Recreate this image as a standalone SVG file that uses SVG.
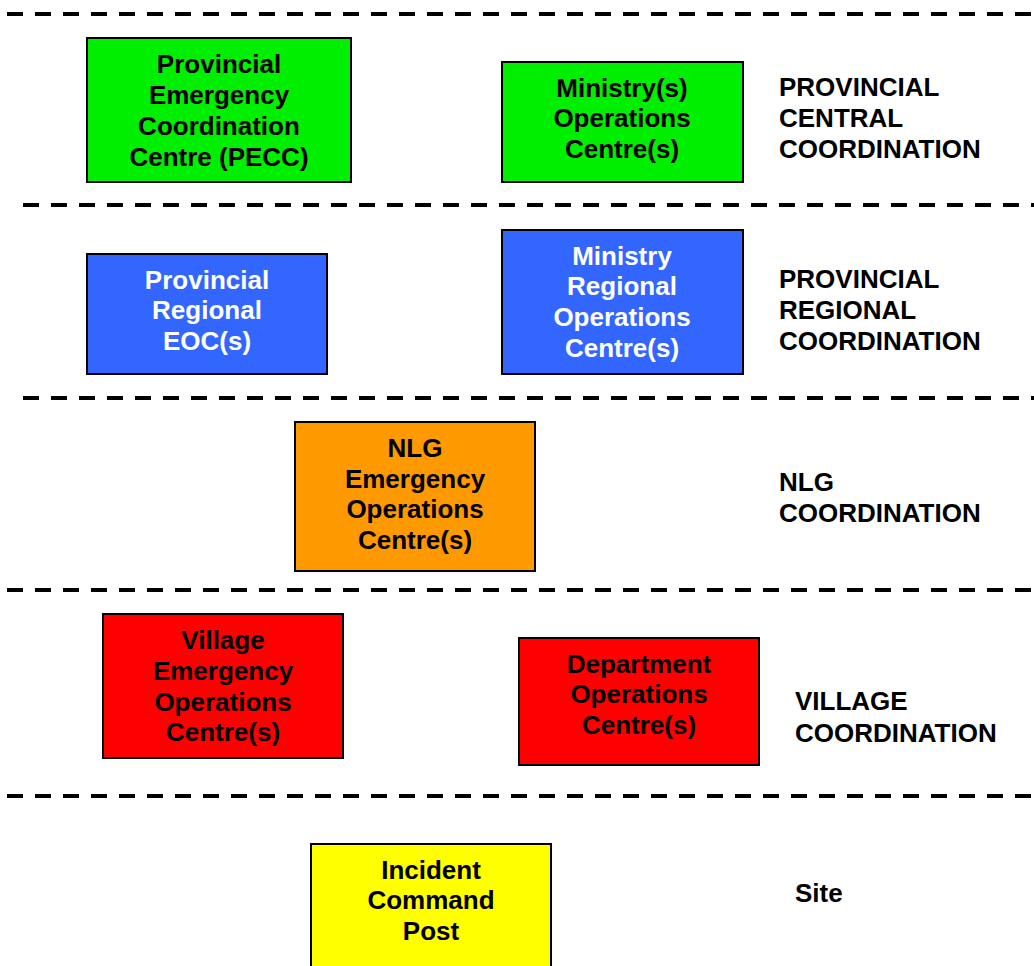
<svg xmlns="http://www.w3.org/2000/svg" width="1034" height="966" viewBox="0 0 1034 966">
  <style>
    .tier { stroke: #000; stroke-width: 4; stroke-dasharray: 16 12; fill: none; }
    .box { stroke: #000; stroke-width: 2; }
    .lbl { font-family: "Liberation Sans", Arial, Helvetica, sans-serif; font-weight: bold; font-size: 26px; text-anchor: middle; fill: #000; }
    .lvl { font-family: "Liberation Sans", Arial, Helvetica, sans-serif; font-weight: bold; font-size: 26px; fill: #000; }
    .white { fill: #fff; }
  </style>

  <rect width="1034" height="966" fill="#fff"/>

  <!-- tier separators -->
  <g id="connectors">
    <line class="tier" x1="7" y1="14" x2="1034" y2="14"/>
    <line class="tier" x1="23" y1="205" x2="1034" y2="205"/>
    <line class="tier" x1="23" y1="398" x2="1034" y2="398"/>
    <line class="tier" x1="7" y1="590" x2="1034" y2="590"/>
    <line class="tier" x1="7" y1="796" x2="1034" y2="796"/>
  </g>

  <!-- Provincial central tier -->
  <g id="pecc">
    <rect class="box" x="87" y="38" width="264" height="144" fill="#00ee00"/>
    <text class="lbl" x="219" y="73">Provincial</text>
    <text class="lbl" x="219" y="104">Emergency</text>
    <text class="lbl" x="219" y="135">Coordination</text>
    <text class="lbl" x="219" y="166">Centre (PECC)</text>
  </g>
  <g id="ministry-ops">
    <rect class="box" x="502" y="62" width="241" height="120" fill="#00ee00"/>
    <text class="lbl" x="622" y="97">Ministry(s)</text>
    <text class="lbl" x="622" y="127">Operations</text>
    <text class="lbl" x="622" y="158">Centre(s)</text>
  </g>
  <g id="tier-central">
    <text class="lvl" x="779" y="96">PROVINCIAL</text>
    <text class="lvl" x="779" y="127">CENTRAL</text>
    <text class="lvl" x="779" y="158">COORDINATION</text>
  </g>

  <!-- Provincial regional tier -->
  <g id="regional-eoc">
    <rect class="box" x="87" y="254" width="240" height="120" fill="#3366ff"/>
    <text class="lbl white" x="207" y="289">Provincial</text>
    <text class="lbl white" x="207" y="319">Regional</text>
    <text class="lbl white" x="207" y="350">EOC(s)</text>
  </g>
  <g id="ministry-regional">
    <rect class="box" x="502" y="230" width="241" height="144" fill="#3366ff"/>
    <text class="lbl white" x="622" y="265">Ministry</text>
    <text class="lbl white" x="622" y="295">Regional</text>
    <text class="lbl white" x="622" y="326">Operations</text>
    <text class="lbl white" x="622" y="357">Centre(s)</text>
  </g>
  <g id="tier-regional">
    <text class="lvl" x="779" y="288">PROVINCIAL</text>
    <text class="lvl" x="779" y="319">REGIONAL</text>
    <text class="lvl" x="779" y="350">COORDINATION</text>
  </g>

  <!-- NLG tier -->
  <g id="nlg-eoc">
    <rect class="box" x="295" y="422" width="240" height="149" fill="#ff9900"/>
    <text class="lbl" x="415" y="457">NLG</text>
    <text class="lbl" x="415" y="488">Emergency</text>
    <text class="lbl" x="415" y="518">Operations</text>
    <text class="lbl" x="415" y="549">Centre(s)</text>
  </g>
  <g id="tier-nlg">
    <text class="lvl" x="779" y="491">NLG</text>
    <text class="lvl" x="779" y="522">COORDINATION</text>
  </g>

  <!-- Village tier -->
  <g id="village-eoc">
    <rect class="box" x="103" y="614" width="240" height="144" fill="#ff0000"/>
    <text class="lbl" x="223" y="649">Village</text>
    <text class="lbl" x="223" y="680">Emergency</text>
    <text class="lbl" x="223" y="711">Operations</text>
    <text class="lbl" x="223" y="741">Centre(s)</text>
  </g>
  <g id="department-ops">
    <rect class="box" x="519" y="638" width="240" height="127" fill="#ff0000"/>
    <text class="lbl" x="639" y="673">Department</text>
    <text class="lbl" x="639" y="703">Operations</text>
    <text class="lbl" x="639" y="734">Centre(s)</text>
  </g>
  <g id="tier-village">
    <text class="lvl" x="795" y="710">VILLAGE</text>
    <text class="lvl" x="795" y="742">COORDINATION</text>
  </g>

  <!-- Site tier -->
  <g id="incident-post">
    <rect class="box" x="311" y="844" width="240" height="130" fill="#ffff00"/>
    <text class="lbl" x="431" y="879">Incident</text>
    <text class="lbl" x="431" y="909">Command</text>
    <text class="lbl" x="431" y="940">Post</text>
  </g>
  <g id="tier-site">
    <text class="lvl" x="795" y="902">Site</text>
  </g>
</svg>
